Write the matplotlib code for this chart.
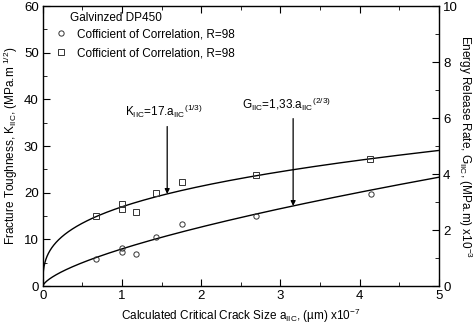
import numpy as np
import matplotlib
matplotlib.use("Agg")
import matplotlib.pyplot as plt
from matplotlib.ticker import MultipleLocator

plt.rcParams['font.family'] = ['Liberation Sans', 'DejaVu Sans']
plt.rcParams['mathtext.fontset'] = 'custom'
plt.rcParams['mathtext.rm'] = 'Liberation Sans'
plt.rcParams['mathtext.it'] = 'Liberation Sans'

# measured crack size (x1e-7 um) and fracture toughness K_IIC
a_sq = [0.67, 1.0, 1.0, 1.17, 1.43, 1.76, 2.69, 4.13]
k_sq = [15.0, 17.6, 16.6, 15.9, 19.9, 22.4, 23.8, 27.2]
# energy release rate G_IIC (x1e-3), plotted on the right axis
a_ci = [0.67, 1.0, 1.0, 1.17, 1.43, 1.76, 2.69, 4.14]
g_ci = [0.98, 1.37, 1.22, 1.13, 1.75, 2.22, 2.50, 3.30]

k_coef, k_exp = 17.0, 1 / 3
g_coef, g_exp = 1.33, 2 / 3
k_arrow_a = 1.57
g_arrow_a = 3.16

fig = plt.figure(figsize=(4.76, 3.24), dpi=100)
ax = fig.add_axes([0.09, 0.117, 0.832, 0.864])
ax2 = ax.twinx()

a = np.linspace(0, 5, 2000)
ax.plot(a, k_coef * a ** k_exp, color='black', lw=1.0)
ax2.plot(a, g_coef * a ** g_exp, color='black', lw=1.0)

mk = dict(mfc='none', mec='#333333', ms=3.8, mew=0.7, ls='none')
ax2.plot(a_ci, g_ci, 'o', **mk)
ax.plot(a_sq, k_sq, 's', **mk)

ax.set_xlim(0, 5)
ax.set_ylim(0, 60)
ax2.set_ylim(0, 10)

ax.xaxis.set_major_locator(MultipleLocator(1))
ax.xaxis.set_minor_locator(MultipleLocator(0.5))
ax.yaxis.set_major_locator(MultipleLocator(10))
ax.yaxis.set_minor_locator(MultipleLocator(5))
ax2.yaxis.set_major_locator(MultipleLocator(2))
ax2.yaxis.set_minor_locator(MultipleLocator(1))

for axis in (ax, ax2):
    axis.tick_params(which='both', direction='in', labelsize=9.5, pad=3)
    axis.tick_params(which='major', length=5)
    axis.tick_params(which='minor', length=3)
ax.tick_params(which='both', top=True)
for sp in ax.spines.values():
    sp.set_linewidth(1.0)
    sp.set_color('#333333')

ax.set_xlabel(r'Calculated Critical Crack Size a$_{\mathrm{IIC}}$, (µm) x10$^{-7}$',
              fontsize=8.5, labelpad=3)
ax.set_ylabel(r'Fracture Toughness, K$_{\mathrm{IIC}}$, (MPa.m $^{1/2}$)',
              fontsize=8.5, labelpad=3)
ax2.set_ylabel(r'Energy Release Rate, G$_{\mathrm{IIC}}$, (MPa.m) x10$^{-3}$',
               fontsize=8.5, rotation=-90, labelpad=12)

# legend: title as plain text, entries from empty handles
ax.text(0.068, 0.957, 'Galvinzed DP450', transform=ax.transAxes,
        ha='left', va='center', fontsize=8.5)
h1, = ax.plot([], [], 'o', **mk)
h2, = ax.plot([], [], 's', **mk)
ax.legend([h1, h2], ['Cofficient of Correlation, R=98'] * 2,
          loc='upper left', bbox_to_anchor=(0.009, 0.946), frameon=False,
          fontsize=8.5, handlelength=1.2, handletextpad=0.8,
          labelspacing=0.6, borderaxespad=0.2)

# equation labels with arrows pointing to the fitted curves
ax.annotate('', xy=(k_arrow_a, k_coef * k_arrow_a ** k_exp), xytext=(k_arrow_a, 34.2),
            arrowprops=dict(arrowstyle='-|>', color='black', lw=0.9,
                            mutation_scale=7, shrinkA=0, shrinkB=0))
ax.text(1.53, 35.6, r'K$_{\mathrm{IIC}}$=17.a$_{\mathrm{IIC}}$$^{(1/3)}$',
        ha='center', va='bottom', fontsize=8.5)

g_tip = g_coef * g_arrow_a ** g_exp * 6
ax.annotate('', xy=(g_arrow_a, g_tip), xytext=(g_arrow_a, 35.9),
            arrowprops=dict(arrowstyle='-|>', color='black', lw=0.9,
                            mutation_scale=7, shrinkA=0, shrinkB=0))
ax.text(3.07, 37.0, r'G$_{\mathrm{IIC}}$=1,33.a$_{\mathrm{IIC}}$$^{(2/3)}$',
        ha='center', va='bottom', fontsize=8.5)

fig.savefig('out.png', dpi=100)
